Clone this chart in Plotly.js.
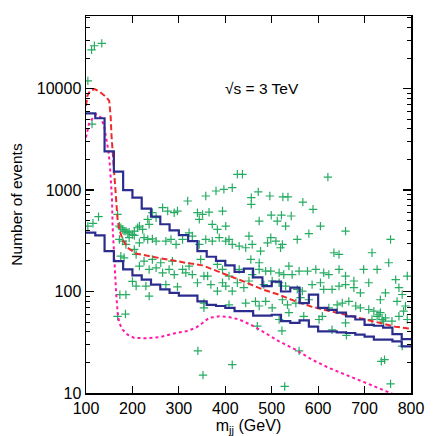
<!DOCTYPE html>
<html><head>
<script src="https://cdn.plot.ly/plotly-3.0.1.min.js"></script>
<style>body{margin:0;background:#fff}</style>
</head><body>
<div id="chart" style="width:436px;height:436px"></div>
<script>
// bin edges of the histograms (GeV)
const binEdges = [100,120,140,160,180,200,220,240,260,280,300,320,340,360,380,400,420,440,460,480,500,520,540,560,580,600,620,640,660,680,700,720,740,760,780,800];
const upperBlue = [5700,5100,2400,1520,1000,841,655,546,460,400,360,314,250,220,200,181,156,168,138,113,125,100,109,77,93,69,66,62,57,53,47,46,44,38,34];
const lowerBlue = [380,357,250,199,165,144,131,117,105,97,91,91,80,74,72,69,64,64,58,58,59,51,49,52,45,40.5,40.5,39.6,39,37.6,36,33.6,33.6,32.3,28.8];

const redX = [100,103,108.6,119,130,144.5,150,153,155,158.8,161,164.5,168,171.7,178.8,189.6,207.5,243,279,315,351,372,401,430,455,480,516,551.5,587,623,659,695,731,766.5,800];
const redY = [6760,8470,9480,9860,9270,8170,7560,5370,3410,2010,1277,751,514,409,326,270,237,220,204,192,181,165,147,131,118,105,93,80,70.6,64,59,54,49,45,43];

const pinkX = [100,107,121.5,132,139,144.4,148.7,151.6,153.8,156,157.3,159.5,163,165,167,168.5,171.7,178.8,189.6,204,229,257.7,272,293.5,315,336.5,351,365,387,408,430,455,480,516,551.5,587,623,659,695,731,756,770];
const pinkY = [3290,4620,5590,5190,4280,3160,2340,1725,1277,809,441,241,141,95,70,60,49,42,37.6,34.9,34.6,35.4,36.8,39,40.5,43.9,49,55,57,56,53,47,40.5,32.3,26.7,21.3,17.7,15.2,13,11.2,10,9.3];

const crossX = [112,118,134,104,113,104,115,127,
168,172,175,179,182,186,190,193,200,204,211,215,222,233,236,243,251,265,276,290,297,319,340,344,351,358,365,372,380,383,394,397,401,415,426,437,
172,179,186,193,204,215,225,233,243,251,272,283,294,308,322,329,344,358,372,387,401,408,415,430,444,451,
175,182,204,208,215,225,236,243,251,261,265,279,286,290,308,315,322,329,340,347,354,362,369,383,394,401,408,426,430,440,186,208,229,236,
272,297,383,394,415,200,354,354,408,444,168,185,173,
456,456,471,496,524,535,567,589,499,521,542,621,
473,512,530,605,659,580,555,498,491,509,756,523,519,458,476,634,645,716,752,455,473,473,487,498,516,526,537,544,559,577,595,612,623,645,659,677,698,727,767,774,792,458,451,483,501,516,530,555,566,587,605,612,630,645,659,677,691,709,734,745,770,781,788,465,473,487,501,523,534,552,562,580,609,623,641,652,666,681,691,709,720,731,738,745,759,774,784,792,537,516,569,602,630,659,469,559,781,741,716,727,734,
341,352,415,522,528,661,736,743,756];
const crossY = [24100,26400,27900,11900,4460,440,470,546,
576,441,425,409,394,394,379,385,365,394,425,441,409,514,459,598,533,670,621,598,621,780,598,514,576,873,605,459,978,409,621,1016,441,1054,1430,1430,
326,314,291,339,357,302,339,326,330,314,314,326,291,326,379,352,291,326,314,339,314,326,291,280,270,352,
223,215,260,232,178,199,165,207,171,192,153,165,199,147,165,153,178,147,122,207,142,142,117,185,165,113,142,122,165,109,93,113,113,90,
117,111,101,122,101,126,77,69,74,77,57,60,93,
841,723,960,873,855,855,760,646,565,565,555,1340,
495,495,441,441,394,372,326,339,302,314,326,291,270,291,250,241,232,241,192,207,192,165,159,159,153,147,178,147,159,159,165,153,147,165,142,127,165,165,131,109,142,147,127,117,127,122,113,105,101,117,122,105,105,113,117,109,97,122,83,97,80,93.5,72,80,72,80,69,83,74,77,87,83,57,69,74,77,80,72,69,66.5,64,59,53,55,51,57,64,53,62,53,57,53,42,49,45.5,26,29,51,53,57,62,
26,15,19,41,11.6,37,20.5,21.3,12.3];

// axis ticks
const yMajorVals = [10, 100, 1000, 10000];
const yMajorText = ['10', '100', '1000', '10000'];
const yMinorVals = [20,30,40,50,60,70,80,90,200,300,400,500,600,700,800,900,2000,3000,4000,5000,6000,7000,8000,9000,20000,30000,40000,50000];

const blue = '#2b2d8e';
const traces = [
  {x: crossX, y: crossY, type: 'scatter', mode: 'markers',
   marker: {symbol: 'cross-thin-open', size: 6, color: 'rgb(38,172,98)', line: {width: 1.2, color: 'rgb(38,172,98)'}}, hoverinfo: 'none'},
  {x: pinkX, y: pinkY, type: 'scatter', mode: 'lines', line: {color: '#ff1aa8', width: 2, dash: 'dot'}},
  {x: redX, y: redY, type: 'scatter', mode: 'lines', line: {color: '#ee2a2a', width: 2, dash: '6px,3px'}},
  {x: binEdges, y: upperBlue.concat([upperBlue[upperBlue.length-1]]), type: 'scatter', mode: 'lines', line: {color: blue, width: 2.2, shape: 'hv'}},
  {x: binEdges, y: lowerBlue.concat([lowerBlue[lowerBlue.length-1]]), type: 'scatter', mode: 'lines', line: {color: blue, width: 2.2, shape: 'hv'}}
];

const font = {family: 'Liberation Sans, Arial, Helvetica, sans-serif', color: '#000'};
const layout = {
  width: 436, height: 436,
  margin: {l: 86, r: 25, t: 16, b: 43},
  paper_bgcolor: '#fff', plot_bgcolor: '#fff',
  showlegend: false,
  font: Object.assign({size: 16}, font),
  xaxis: {
    range: [100, 800], dtick: 100, tick0: 100,
    showgrid: false, zeroline: false,
    showline: true, linecolor: '#000', linewidth: 1.5, mirror: 'ticks',
    ticks: 'inside', ticklen: 7, tickwidth: 1.2, tickcolor: '#000',
    tickfont: Object.assign({size: 16}, font),
    title: {text: 'm<sub>jj</sub> (GeV)', font: Object.assign({size: 16}, font), standoff: 5}
  },
  yaxis: {
    type: 'log', range: [1, 4.715],
    tickmode: 'array', tickvals: yMajorVals, ticktext: yMajorText,
    showgrid: false, zeroline: false,
    showline: true, linecolor: '#000', linewidth: 1.5, mirror: 'ticks',
    ticks: 'inside', ticklen: 8, tickwidth: 1.2, tickcolor: '#000',
    minor: {tickmode: 'array', tickvals: yMinorVals, ticks: 'inside', ticklen: 4, tickwidth: 1, tickcolor: '#000', showgrid: false},
    tickfont: Object.assign({size: 16}, font),
    title: {text: 'Number of events', font: Object.assign({size: 15.5}, font), standoff: 10}
  },
  annotations: [{
    text: '\u221As = 3 TeV', xref: 'paper', yref: 'paper', x: 0.42, y: 0.809,
    xanchor: 'left', yanchor: 'middle', showarrow: false,
    font: Object.assign({size: 15.5}, font)
  }]
};
Plotly.newPlot('chart', traces, layout, {displayModeBar: false, staticPlot: true});
</script>
</body></html>
